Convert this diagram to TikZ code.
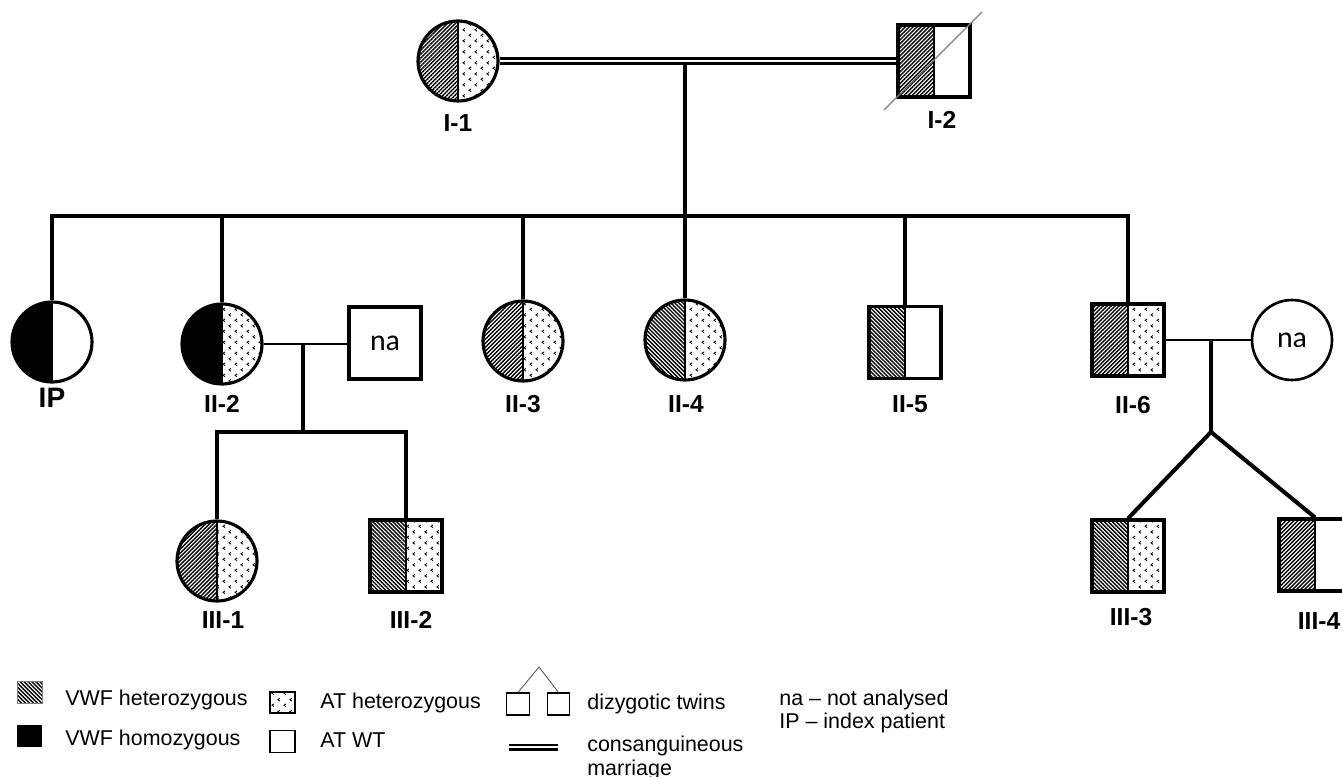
\documentclass[tikz,border=0pt]{standalone}
\usepackage{fontspec}
\setmainfont{Liberation Sans}
\newfontfamily\nafont{Carlito}
\usetikzlibrary{patterns,patterns.meta}

\pgfdeclarepatternformonly{atdots}{\pgfqpoint{0pt}{0pt}}{\pgfqpoint{7pt}{6.5pt}}{\pgfqpoint{7pt}{6.5pt}}{%
  \pgfsetlinewidth{0.5pt}%
  \pgfpathmoveto{\pgfqpoint{2.4pt}{0.8pt}}\pgfpathlineto{\pgfqpoint{1.2pt}{1.6pt}}\pgfpathlineto{\pgfqpoint{2.4pt}{2.4pt}}%
  \pgfpathmoveto{\pgfqpoint{5.9pt}{4.05pt}}\pgfpathlineto{\pgfqpoint{4.7pt}{4.85pt}}\pgfpathlineto{\pgfqpoint{5.9pt}{5.65pt}}%
  \pgfusepath{stroke}%
}

\tikzset{
  vwfa/.style={pattern={Lines[angle=45,distance=1.6pt,line width=0.8pt]}},
  vwfb/.style={pattern={Lines[angle=-45,distance=1.6pt,line width=0.8pt]}},
  vwfh/.style={fill=black},
  ath/.style={pattern=atdots},
  atw/.style={fill=white},
  halves/.style 2 args={path picture={
     \fill[#1] (path picture bounding box.south west) rectangle (path picture bounding box.north);
     \fill[#2] (path picture bounding box.south) rectangle (path picture bounding box.north east);
     \draw[line width=1.5pt] (path picture bounding box.south) -- (path picture bounding box.north);}},
  female/.style={circle, draw, line width=1.8pt, minimum size=1.6cm, inner sep=0pt, fill=white},
  male/.style={rectangle, draw, line width=1.8pt, minimum size=1.44cm, inner sep=0pt, fill=white},
  lbl/.style={font=\bfseries\fontsize{14}{16}\selectfont, inner sep=0pt},
  natext/.style={font=\nafont\fontsize{17}{19}\selectfont},
  sib/.style={line width=2.3pt},
  spouse/.style={line width=1.5pt},
  legtext/.style={font=\fontsize{12.2}{14}\selectfont, anchor=base west, inner sep=0pt},
  legbox/.style={rectangle, minimum width=0.5cm, minimum height=0.44cm, inner sep=0pt},
}

\begin{document}
\begin{tikzpicture}[x=0.02cm, y=-0.02cm]
\useasboundingbox (0,0) rectangle (1342,777);

% Generation I
\node[female, halves={vwfa}{ath}] (I1) at (458,61) {};
\node[male, halves={vwfa}{atw}] (I2) at (934,61) {};
\coordinate (d1) at (884,110);
\coordinate (d2) at (982,12);
\draw[gray, line width=0.7pt] (d1) -- (d2);
\node[lbl] (lI1) at (458,123) {I-1};
\node[lbl] (lI2) at (942,120) {I-2};

\draw[line width=2.2pt] ([yshift=1.4pt]I1.east) -- ([yshift=1.4pt]I2.west);
\draw[line width=1.6pt] ([yshift=-1.3pt]I1.east) -- ([yshift=-1.3pt]I2.west);
\coordinate (m1) at (685,63);
\coordinate (s2) at (685,216);

% Generation II
\node[female, halves={vwfh}{atw}] (IP) at (52,342) {};
\node[female, halves={vwfh}{ath}] (II2) at (222,344) {};
\node[male, line width=2.1pt, natext] (na1) at (385,343) {na};
\node[female, halves={vwfa}{ath}] (II3) at (523,341) {};
\node[female, halves={vwfb}{ath}] (II4) at (685,340) {};
\node[male, halves={vwfb}{atw}] (II5) at (905,342.5) {};
\node[male, halves={vwfa}{ath}] (II6) at (1128,340) {};
\node[female, line width=1.5pt, natext] (na2) at (1292,340) {na};

\node[lbl, font=\bfseries\fontsize{16}{18}\selectfont] (lIP) at (52,398) {IP};
\node[lbl] (lII2) at (222,404) {II-2};
\node[lbl] (lII3) at (523,404) {II-3};
\node[lbl] (lII4) at (686,404) {II-4};
\node[lbl] (lII5) at (910,404) {II-5};
\node[lbl] (lII6) at (1133,405) {II-6};

\draw[sib] (m1) -- (II4.north);
\draw[sib] (IP.north) |- (s2) -| (II6.north);
\draw[sib] (II2.north) -- (II2.north |- s2);
\draw[sib] (II3.north) -- (II3.north |- s2);
\draw[sib] (II5.north) -- (II5.north |- s2);

% Generation III
\node[female, halves={vwfa}{ath}] (III1) at (217,561) {};
\node[male, halves={vwfb}{ath}] (III2) at (406,556) {};
\node[male, halves={vwfb}{ath}] (III3) at (1128,556) {};
\node[male, halves={vwfa}{atw}] (III4) at (1315,555) {};

\node[lbl] (lIII1) at (223,620) {III-1};
\node[lbl] (lIII2) at (411,620) {III-2};
\node[lbl] (lIII3) at (1131,617) {III-3};
\node[lbl] (lIII4) at (1319,621) {III-4};

\coordinate (c2) at (303,432);
\draw[spouse] (II2.east) -- (II2.east -| na1.west);
\draw[sib] (II2.east -| c2) -- (c2);
\draw[sib] (III1.north) |- (c2) -| (III2.north);

\coordinate (tw) at (1211,432);
\draw[spouse] (II6.east) -- (na2.west);
\draw[sib] (II6.east -| tw) -- (tw);
\draw[sib] (III3.north) -- (tw) -- (III4.north);

% Legend
\node[legbox, vwfb, draw=gray, line width=0.7pt] (lg1) at (30,692.5) {};
\node[legbox, fill=black] (lg2) at (29.5,736) {};
\node[legbox, ath, draw, line width=0.7pt, minimum height=0.42cm] (lg3) at (282.5,702.5) {};
\node[legbox, draw, line width=0.7pt] (lg4) at (282.5,741.5) {};
\node[legtext] (t1) at (65,705) {VWF heterozygous};
\node[legtext] (t2) at (65,745) {VWF homozygous};
\node[legtext] (t3) at (320,708) {AT heterozygous};
\node[legtext] (t4) at (320,747) {AT WT};

\node[legbox, draw, line width=0.7pt, minimum width=0.46cm] (tw1) at (518,704) {};
\node[legbox, draw, line width=0.7pt, minimum width=0.44cm] (tw2) at (558.5,704) {};
\coordinate (twa) at (539,667);
\draw[line width=0.5pt, gray!70!black] (tw1.north) -- (twa) -- (tw2.north);
\node[legtext] (t5) at (587,709) {dizygotic twins};

\coordinate (dla) at (509,745);
\coordinate (dlb) at (558,745);
\coordinate (dlc) at (509,749.5);
\coordinate (dld) at (558,749.5);
\draw[line width=1.3pt] (dla) -- (dlb);
\draw[line width=1.3pt] (dlc) -- (dld);
\node[legtext] (t6) at (587,751) {consanguineous};
\node[legtext] (t7) at (587,775) {marriage};

\node[legtext] (t8) at (779,705) {na -- not analysed};
\node[legtext] (t9) at (779,728) {IP -- index patient};
\end{tikzpicture}
\end{document}
